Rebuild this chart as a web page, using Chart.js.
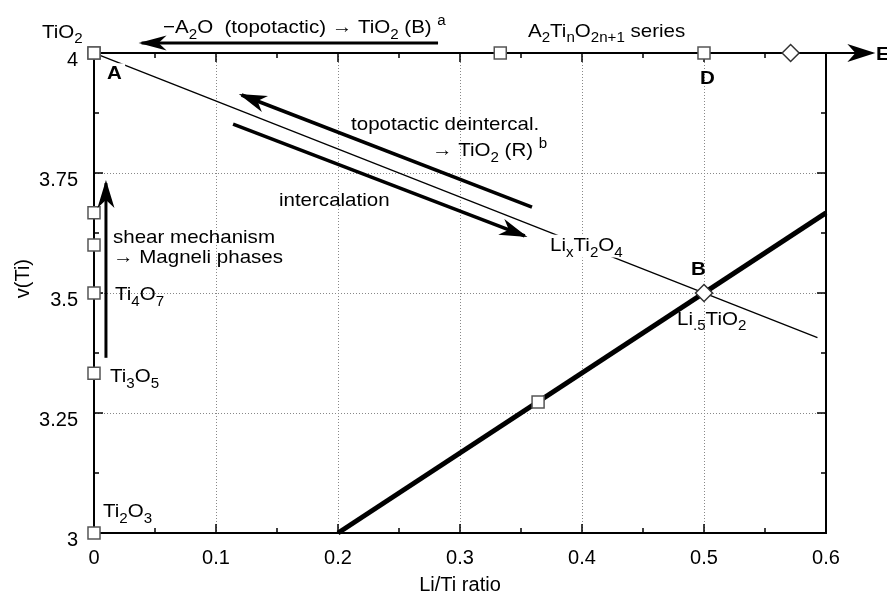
<!DOCTYPE html>
<html>
<head>
<meta charset="utf-8">
<script src="https://cdn.jsdelivr.net/npm/chart.js@4.4.0/dist/chart.umd.min.js"></script>
<style>
  html, body { margin: 0; padding: 0; background: #fff; }
  #wrap { width: 887px; height: 597px; }
</style>
</head>
<body>
<div id="wrap"><canvas id="chart"></canvas></div>
<script>
// axis ticks
const xTicks = [0, 0.1, 0.2, 0.3, 0.4, 0.5, 0.6];
const yTicks = [3, 3.25, 3.5, 3.75, 4];

// Magneli phases on the Li/Ti = 0 axis (Ti2O3 ... TiO2)
const magneliX = [0, 0, 0, 0, 0, 0];
const magneliY = [3, 3.333, 3.5, 3.6, 3.667, 4];

// A2TinO2n+1 series along v(Ti) = 4, last point is the arrow tip to E
const seriesX = [0, 0.333, 0.5, 0.571, 0.638];
const seriesY = [4, 4, 4, 4, 4];

// LixTi2O4 line
const lixX = [0, 0.593];
const lixY = [4, 3.407];

// thick lithiation line
const thickX = [0.2, 0.6];
const thickY = [3, 3.667];
const thickMarkX = [0.364];
const thickMarkY = [3.273];

// point B (Li.5TiO2)
const bX = [0.5];
const bY = [3.5];

// arrows, from -> to
const arrowTopX = [0.282, 0.039];
const arrowTopY = [4.021, 4.021];
const arrowShearX = [0.0098, 0.0098];
const arrowShearY = [3.365, 3.729];
const arrowDeintX = [0.359, 0.121];
const arrowDeintY = [3.679, 3.9125];
const arrowInterX = [0.114, 0.353];
const arrowInterY = [3.852, 3.619];

const pts = (xs, ys) => xs.map((x, i) => ({ x: x, y: ys[i] }));

// text annotations, placed in data units (left edge, glyph centre)
const notes = [
  { t: "TiO_{2}", x: -0.0426, y: 4.046 },
  { t: "\u2212A_{2}O  (topotactic) \u2192 TiO_{2} (B) ^{a}", x: 0.0566, y: 4.056 },
  { t: "A_{2}Ti_{n}O_{2n+1} series", x: 0.3557, y: 4.048 },
  { t: "A", x: 0.0107, y: 3.959, bold: true, bg: true },
  { t: "D", x: 0.4967, y: 3.949, bold: true },
  { t: "E", x: 0.641, y: 4.0, bold: true },
  { t: "B", x: 0.4893, y: 3.551, bold: true },
  { t: "Li_{.5}TiO_{2}", x: 0.4779, y: 3.448 },
  { t: "Li_{x}Ti_{2}O_{4}", x: 0.3738, y: 3.602, bg: true },
  { t: "shear mechanism", x: 0.0156, y: 3.618 },
  { t: "\u2192 Magneli phases", x: 0.0156, y: 3.576 },
  { t: "Ti_{4}O_{7}", x: 0.0172, y: 3.5 },
  { t: "Ti_{3}O_{5}", x: 0.0131, y: 3.329 },
  { t: "Ti_{2}O_{3}", x: 0.0074, y: 3.047 },
  { t: "topotactic deintercal.", x: 0.2107, y: 3.854 },
  { t: "\u2192 TiO_{2} (R) ^{b}", x: 0.277, y: 3.799 },
  { t: "intercalation", x: 0.1516, y: 3.696 }
];

const FONT = '"Liberation Sans", Arial, sans-serif';
const SIZE = 19;
const STRETCH = 1.08;

function parseRich(str) {
  const parts = [];
  const re = /([_^])\{([^}]*)\}/g;
  let last = 0, m;
  while ((m = re.exec(str))) {
    if (m.index > last) parts.push({ t: str.slice(last, m.index), s: 0 });
    parts.push({ t: m[2], s: m[1] === "_" ? -1 : 1 });
    last = re.lastIndex;
  }
  if (last < str.length) parts.push({ t: str.slice(last), s: 0 });
  return parts;
}

function drawRich(ctx, str, x, cy, bold, bg) {
  const parts = parseRich(str);
  const w = bold ? "bold " : "";
  const big = w + SIZE + "px " + FONT;
  const small = w + Math.round(SIZE * 0.74) + "px " + FONT;
  ctx.save();
  ctx.translate(x, cy + SIZE * 0.358);
  ctx.scale(STRETCH, 1);
  ctx.textBaseline = "alphabetic";
  ctx.textAlign = "left";
  let total = 0;
  parts.forEach(p => {
    ctx.font = p.s ? small : big;
    p.w = ctx.measureText(p.t).width;
    total += p.w;
  });
  if (bg) {
    ctx.fillStyle = "#fff";
    ctx.fillRect(-3, -SIZE * 0.85, total + 6, SIZE * 1.2);
  }
  ctx.fillStyle = "#000";
  let cx = 0;
  parts.forEach(p => {
    ctx.font = p.s ? small : big;
    const dy = p.s === -1 ? SIZE * 0.3 : p.s === 1 ? -SIZE * 0.42 : 0;
    ctx.fillText(p.t, cx, dy);
    cx += p.w;
  });
  ctx.restore();
}

// inward ticks on all four sides + right frame line
const framePlugin = {
  id: "frame",
  beforeDatasetsDraw(chart) {
    const { ctx, chartArea: a, scales: { x, y } } = chart;
    ctx.save();
    ctx.strokeStyle = "#000";
    ctx.lineWidth = 2;
    ctx.beginPath();
    ctx.moveTo(a.right, a.top - 1);
    ctx.lineTo(a.right, a.bottom + 1);
    ctx.stroke();
    ctx.lineWidth = 1.5;
    ctx.beginPath();
    for (let i = 1; i < 12; i++) {
      const px = x.getPixelForValue(i * 0.05);
      const len = i % 2 === 0 ? 9 : 5;
      ctx.moveTo(px, a.bottom); ctx.lineTo(px, a.bottom - len);
      ctx.moveTo(px, a.top); ctx.lineTo(px, a.top + len);
    }
    for (let i = 1; i < 8; i++) {
      const py = y.getPixelForValue(3 + i * 0.125);
      const len = i % 2 === 0 ? 9 : 5;
      ctx.moveTo(a.left, py); ctx.lineTo(a.left + len, py);
      ctx.moveTo(a.right, py); ctx.lineTo(a.right - len, py);
    }
    ctx.stroke();
    // y axis title, sits a little above the axis middle
    ctx.translate(23, y.getPixelForValue(3.53));
    ctx.rotate(-Math.PI / 2);
    ctx.font = "20px " + FONT;
    ctx.fillStyle = "#000";
    ctx.textAlign = "center";
    ctx.textBaseline = "middle";
    ctx.fillText("v(Ti)", 0, 0);
    ctx.restore();
  }
};

// barbed arrow heads at the last point of flagged datasets
const arrowPlugin = {
  id: "arrows",
  afterDatasetsDraw(chart) {
    const ctx = chart.ctx;
    chart.data.datasets.forEach((ds, i) => {
      if (!ds.arrowHead) return;
      const d = chart.getDatasetMeta(i).data;
      const a = d[d.length - 2], b = d[d.length - 1];
      const ang = Math.atan2(b.y - a.y, b.x - a.x);
      const L = 25, W = ds.headW || 8.5;
      ctx.save();
      ctx.translate(b.x, b.y);
      ctx.rotate(ang);
      ctx.fillStyle = "#000";
      ctx.beginPath();
      ctx.moveTo(3, 0);
      ctx.lineTo(-L, -W);
      ctx.lineTo(-L + 8, 0);
      ctx.lineTo(-L, W);
      ctx.closePath();
      ctx.fill();
      ctx.restore();
    });
  }
};

const notesPlugin = {
  id: "notes",
  afterDraw(chart) {
    const { ctx, scales: { x, y } } = chart;
    notes.forEach(n => drawRich(ctx, n.t, x.getPixelForValue(n.x), y.getPixelForValue(n.y), n.bold, n.bg));
  }
};

const square = {
  showLine: false, pointStyle: "rect", pointRadius: 8.5, pointHoverRadius: 8.5,
  pointBackgroundColor: "#fff", pointBorderColor: "#555", pointBorderWidth: 1.5, clip: false
};

new Chart(document.getElementById("chart"), {
  type: "scatter",
  data: {
    datasets: [
      Object.assign({ data: pts(magneliX, magneliY) }, square),
      Object.assign({ data: pts(thickMarkX, thickMarkY) }, square),
      Object.assign({ data: pts(bX, bY) }, square, { pointStyle: "rectRot", pointBorderColor: "#333" }),
      {
        data: pts(seriesX, seriesY), showLine: true, borderColor: "#000", borderWidth: 2,
        pointStyle: ["rect", "rect", "rect", "rectRot", false], pointRadius: [8.5, 8.5, 8.5, 8.5, 0],
        pointBackgroundColor: "#fff", pointBorderColor: ["#555", "#555", "#555", "#333", "#000"],
        pointBorderWidth: 1.5, clip: false, arrowHead: true, headW: 9
      },
      { data: pts(lixX, lixY), showLine: true, borderColor: "#000", borderWidth: 1.3, pointRadius: 0 },
      { data: pts(thickX, thickY), showLine: true, borderColor: "#000", borderWidth: 5, pointRadius: 0, clip: false },
      { data: pts(arrowTopX, arrowTopY), showLine: true, borderColor: "#000", borderWidth: 3, pointRadius: 0, clip: false, arrowHead: true, headW: 7.5 },
      { data: pts(arrowShearX, arrowShearY), showLine: true, borderColor: "#000", borderWidth: 3, pointRadius: 0, arrowHead: true },
      { data: pts(arrowDeintX, arrowDeintY), showLine: true, borderColor: "#000", borderWidth: 3.5, pointRadius: 0, arrowHead: true },
      { data: pts(arrowInterX, arrowInterY), showLine: true, borderColor: "#000", borderWidth: 3.5, pointRadius: 0, arrowHead: true }
    ]
  },
  options: {
    responsive: true,
    maintainAspectRatio: false,
    animation: false,
    layout: { padding: { top: 53, right: 61, left: 0, bottom: 0 } },
    plugins: { legend: { display: false }, tooltip: { enabled: false } },
    scales: {
      x: {
        type: "linear", min: 0, max: 0.6,
        afterBuildTicks: s => { s.ticks = xTicks.map(v => ({ value: v })); },
        afterFit: s => { s.height = 64; },
        ticks: { padding: 13, color: "#000", font: { size: 20, family: FONT }, callback: v => String(+v.toFixed(2)) },
        grid: { color: "#888", lineWidth: 1, drawTicks: false },
        border: { color: "#000", width: 2, dash: [1, 2] },
        title: { display: true, text: "Li/Ti ratio", color: "#000", font: { size: 20, family: FONT }, padding: { top: 1, bottom: 0 } }
      },
      y: {
        type: "linear", min: 3, max: 4,
        afterBuildTicks: s => { s.ticks = yTicks.map(v => ({ value: v })); },
        afterFit: s => { s.width = 94; },
        ticks: { padding: 16, labelOffset: 7, color: "#000", font: { size: 20, family: FONT }, callback: v => String(+v.toFixed(2)) },
        grid: { color: "#888", lineWidth: 1, drawTicks: false },
        border: { color: "#000", width: 2, dash: [1, 2] },
        title: { display: false }
      }
    }
  },
  plugins: [framePlugin, arrowPlugin, notesPlugin]
});
</script>
</body>
</html>
